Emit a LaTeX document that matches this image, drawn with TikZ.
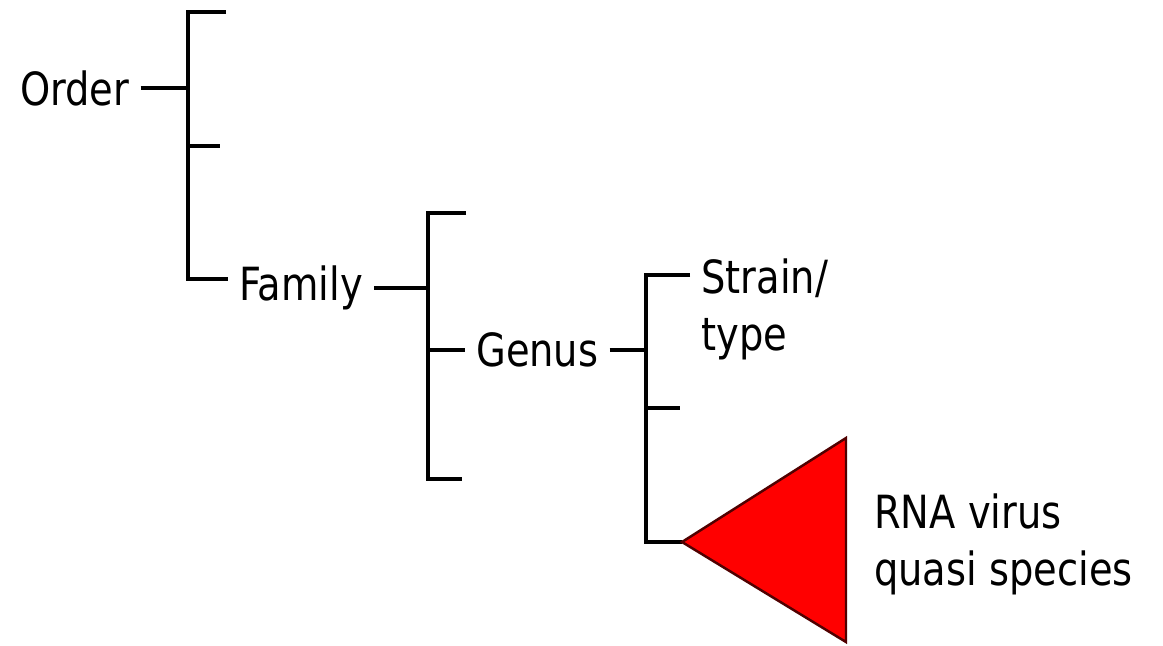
\documentclass[tikz,border=0pt]{standalone}
\usepackage{fontspec}
\setsansfont{DejaVu Sans}[FakeStretch=0.84]
\definecolor{edgered}{RGB}{80,0,0}
\begin{document}
\begin{tikzpicture}[
    x=0.01cm, y=-0.01cm,
    rank/.style={font=\sffamily\fontsize{13}{16}\selectfont, inner xsep=3pt, inner ysep=0pt, align=left},
    branch/.style={line width=1.1pt},
    quasi/.style={fill=red, draw=edgered, line width=0.7pt},
]
    \useasboundingbox (0,0) rectangle (1163,645);

    % Ranks
    \node[rank, anchor=west] (order) at (9,88) {Order};
    \node[rank, anchor=west] (family) at (228,288) {Family};
    \node[rank, anchor=west] (genus) at (465,350) {Genus};
    \node[rank, anchor=base west] (strain) at (690,350) {Strain/\\type};
    \node[rank, anchor=base west] (rna) at (863,585) {RNA virus\\quasi species};

    % Order bracket
    \coordinate (o-top) at (188,12);
    \coordinate (o-mid) at (188,146);
    \coordinate (o-bot) at (188,279);
    \coordinate (o-leaf1) at (226,12);
    \coordinate (o-leaf2) at (220,146);
    \draw[branch] (order.east) -- (order.east -| o-top);
    \draw[branch] (o-leaf1) -- (o-top) -- (o-bot) -- (o-bot -| family.west);
    \draw[branch] (o-mid) -- (o-leaf2);

    % Family bracket
    \coordinate (f-top) at (428,213);
    \coordinate (f-bot) at (428,479);
    \coordinate (f-leaf1) at (466,213);
    \coordinate (f-leaf3) at (462,479);
    \draw[branch] (family.east) -- (family.east -| f-top);
    \draw[branch] (f-leaf1) -- (f-top) -- (f-bot) -- (f-leaf3);
    \draw[branch] (genus.west -| f-top) -- (genus.west);

    % Genus bracket
    \coordinate (g-top) at (646,275);
    \coordinate (g-mid) at (646,408);
    \coordinate (g-bot) at (646,542);
    \coordinate (g-leaf2) at (680,408);
    \coordinate (apex) at (682,542);
    \coordinate (q-top) at (846,438);
    \coordinate (q-bot) at (846,642);
    \draw[branch] (genus.east) -- (genus.east -| g-top);
    \draw[branch] (g-top -| strain.west) -- (g-top) -- (g-bot) -- (apex);
    \draw[branch] (g-mid) -- (g-leaf2);

    % Quasi species
    \filldraw[quasi] (apex) -- (q-top) -- (q-bot) -- cycle;
\end{tikzpicture}
\end{document}
